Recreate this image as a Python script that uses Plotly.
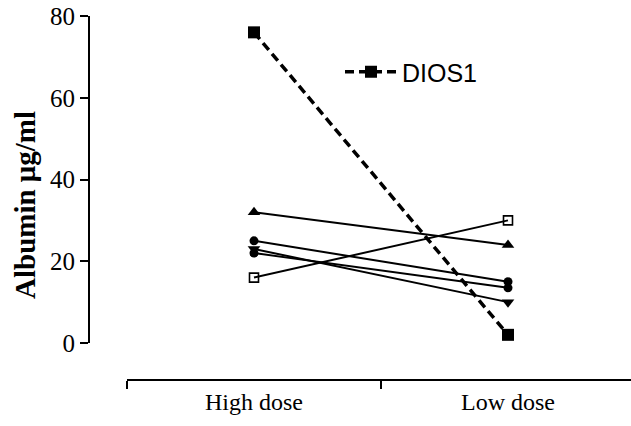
import plotly.graph_objects as go

doses = ["High dose", "Low dose"]

dios1 = [76, 2]
tri_up = [32, 24]
open_sq = [16, 30]
circle_a = [25, 15]
circle_b = [22, 13.5]
tri_down = [23, 10]

y_ticks = [0, 20, 40, 60, 80]

W, H = 631, 426
ML, MR, MT, MB = 89, 0, 10, 40
plot_w = W - ML - MR
plot_h = H - MT - MB

SERIF = "Liberation Serif, Times New Roman, serif"
SANS = "Liberation Sans, Arial, sans-serif"

fig = go.Figure()

others = [
    (tri_up, dict(symbol="triangle-up", size=11, color="black")),
    (open_sq, dict(symbol="square-open", size=9, color="black", line=dict(width=1.6, color="black"))),
    (circle_a, dict(symbol="circle", size=9, color="black")),
    (circle_b, dict(symbol="circle", size=9, color="black")),
    (tri_down, dict(symbol="triangle-down", size=11, color="black")),
]
for vals, mk in others:
    fig.add_trace(go.Scatter(
        x=doses, y=vals, mode="lines+markers",
        line=dict(color="black", width=2),
        marker=mk, showlegend=False,
    ))

fig.add_trace(go.Scatter(
    x=doses, y=dios1, mode="lines+markers", name="DIOS1",
    line=dict(color="black", width=3.5, dash="9px,5px"),
    marker=dict(symbol="square", size=12, color="black"),
))

# y axis title as an annotation so it can sit a bit below the axis centre, like the original
fig.add_annotation(
    text="<b>Albumin μg/ml</b>", textangle=-90,
    xref="paper", yref="paper",
    x=(25 - ML) / plot_w, y=(H - MB - 205) / plot_h,
    xanchor="center", yanchor="middle", showarrow=False,
    font=dict(family=SERIF, size=29, color="black"),
)

fig.update_layout(
    width=W, height=H,
    margin=dict(l=ML, r=MR, t=MT, b=MB, autoexpand=False),
    paper_bgcolor="white", plot_bgcolor="white",
    font=dict(family=SERIF, color="black"),
    legend=dict(
        x=(340 - ML) / plot_w, y=(H - MB - 72) / plot_h,
        xanchor="left", yanchor="middle",
        font=dict(family=SANS, size=25, color="black"),
        itemwidth=52, bgcolor="rgba(0,0,0,0)",
    ),
    xaxis=dict(
        type="category", automargin=False,
        domain=[(127 - ML) / plot_w, 1],
        range=[-0.5, (W - 127) / 254 - 0.5],
        anchor="free", position=(H - MB - 380) / plot_h,
        showline=True, linecolor="black", linewidth=2,
        ticks="outside", tickson="boundaries", ticklen=8, tickwidth=2, tickcolor="black",
        tickfont=dict(family=SERIF, size=24, color="black"),
        showgrid=False, zeroline=False,
    ),
    yaxis=dict(
        range=[0, 80], automargin=False,
        domain=[(H - MB - 343) / plot_h, (H - MB - 16) / plot_h],
        anchor="free", position=0,
        tickvals=y_ticks,
        showline=True, linecolor="black", linewidth=2,
        ticks="outside", ticklen=8, tickwidth=2, tickcolor="black",
        tickfont=dict(family=SERIF, size=25, color="black"),
        showgrid=False, zeroline=False,
    ),
)

fig.write_html(
    "out.html",
    config={"displayModeBar": False},
    post_script="document.body.style.margin = '0';",
)
